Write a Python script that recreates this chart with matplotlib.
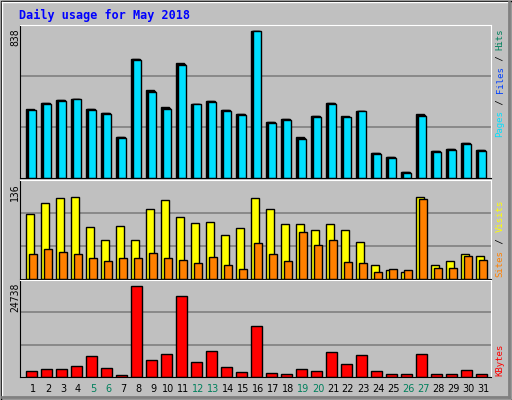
import matplotlib.pyplot as plt
import matplotlib.patches as patches
import numpy as np

days = list(range(1, 32))
weekend = [5, 6, 12, 13, 19, 20, 26, 27]

# values
hits = [395, 429, 446, 451, 395, 372, 235, 679, 499, 405, 654, 423, 440, 389, 366, 838,
        319, 336, 235, 355, 429, 350, 383, 144, 121, 36, 366, 155, 167, 201, 161]
pages = [385, 418, 439, 448, 389, 366, 230, 672, 488, 395, 643, 418, 432, 380, 361, 838,
         314, 331, 224, 344, 418, 345, 380, 139, 116, 30, 350, 150, 160, 195, 156]
files = [389, 424, 442, 449, 391, 368, 232, 675, 493, 400, 648, 420, 436, 384, 363, 838,
         317, 333, 230, 350, 424, 347, 381, 142, 119, 33, 358, 152, 163, 198, 158]
visits = [96, 113, 120, 121, 77, 57, 78, 58, 103, 117, 91, 83, 84, 65, 75, 120,
          103, 81, 82, 73, 82, 73, 54, 20, 13, 10, 121, 21, 26, 37, 34]
sites = [37, 44, 40, 37, 31, 27, 31, 31, 38, 31, 28, 23, 32, 20, 15, 53,
         37, 27, 69, 50, 58, 25, 23, 11, 15, 13, 118, 16, 16, 34, 28]
kbytes = [1715, 2257, 2257, 3069, 5778, 2528, 632, 24738, 4694, 6320, 22029, 4153, 7133, 2799, 1444, 13815,
          1173, 903, 2257, 1715, 6862, 3611, 6049, 1715, 903, 903, 6320, 903, 903, 1986, 903]

W, H = 512, 400
fig = plt.figure(figsize=(W / 100, H / 100), dpi=100)
fig.patch.set_facecolor('#c0c0c0')
bg = fig.add_axes([0, 0, 1, 1])
bg.set_xlim(0, W)
bg.set_ylim(H, 0)
bg.axis('off')
bg.add_patch(patches.Rectangle((0.5, 0.5), W - 1, H - 1, fill=False, ec='black', lw=1))
bg.plot([2, W - 3], [2, 2], color='white', lw=1)
bg.plot([2, 2], [2, H - 3], color='white', lw=1)
bg.plot([2, W - 3], [H - 3, H - 3], color='#808080', lw=2)
bg.plot([W - 3, W - 3], [2, H - 3], color='#808080', lw=2)
bg.text(19, 15, 'Daily usage for May 2018', color='#0000ff', family='DejaVu Sans Mono',
        weight='bold', fontsize=8.5, va='center')

mono = 'DejaVu Sans Mono'
x0, x1 = 20, 491
step = 15.0
xmin = 1 - 13 / step
xmax = xmin + (x1 - x0) / step


def panel(top, bottom):
    ax = fig.add_axes([x0 / W, 1 - bottom / H, (x1 - x0) / W, (bottom - top) / H])
    ax.set_facecolor('#c0c0c0')
    ax.set_xlim(xmin, xmax)
    for s in ax.spines.values():
        s.set_color('black')
    ax.spines['top'].set_color('white')
    ax.spines['right'].set_color('white')
    ax.set_xticks([])
    ax.set_yticks([])
    return ax


def grid(ax, ymax):
    for f in (1 / 3, 2 / 3):
        ax.axhline(f * ymax, color='#808080', lw=1.2, zorder=0)


def side_label(pieces, bottom, cw):
    # pieces of (text, colour), written bottom-up along a vertical line
    pos = bottom
    for txt, col in pieces:
        bg.text(500, pos, txt, rotation=90, color=col, ha='center', va='bottom',
                fontsize=6.5, family=mono)
        pos -= len(txt) * cw


d = np.array(days)
ec = dict(edgecolor='black', linewidth=1)

# top panel
ax1 = panel(25, 178)
ymax1 = 838 * (178 - 25) / (176.7 - 29.3)
ax1.set_ylim(0, ymax1)
grid(ax1, ymax1)
bw = 0.55
ax1.bar(d - 0.5, hits, bw, align='edge', color='#00805c', **ec)
ax1.bar(d - 0.41, files, bw, align='edge', color='#0040ff', **ec)
ax1.bar(d - 0.32, pages, bw, align='edge', color='#00e0ff', **ec)
fig.text(15 / W, 1 - 28 / H, '838', rotation=90, ha='center', va='top', fontsize=7, family=mono)
side_label([('Pages', '#00e0ff'), (' / ', 'black'), ('Files', '#0040ff'),
            (' / ', 'black'), ('Hits', '#00805c')], 137, 5.45)

# middle panel
ax2 = panel(180, 279)
ymax2 = 136 * (279 - 180) / (304 - 28) * 3
ax2.set_ylim(0, ymax2)
grid(ax2, ymax2)
ax2.bar(d - 0.5, visits, bw, align='edge', color='#ffff00', **ec)
ax2.bar(d - 0.24, sites, 0.5, align='edge', color='#ff8000', **ec)
fig.text(15 / W, 1 - 183 / H, '136', rotation=90, ha='center', va='top', fontsize=7, family=mono)
side_label([('Sites', '#ff8000'), (' / ', 'black'), ('Visits', '#ffff00')], 277, 5.6)

# bottom panel
ax3 = panel(280, 377)
ymax3 = 24738 * (377 - 280) / (602 - 328) * 3
ax3.set_ylim(0, ymax3)
grid(ax3, ymax3)
ax3.bar(d - 0.44, kbytes, 0.7, align='edge', color='#ff0000', **ec)
fig.text(15 / W, 1 - 283 / H, '24738', rotation=90, ha='center', va='top', fontsize=7, family=mono)
side_label([('KBytes', '#ff0000')], 376, 6)

for day in days:
    px = x0 + (day - xmin) * step
    col = '#00805c' if day in weekend else 'black'
    bg.text(px, 389, str(day), color=col, ha='center', va='center', fontsize=7)

fig.savefig('out.png', dpi=100, facecolor=fig.get_facecolor())
